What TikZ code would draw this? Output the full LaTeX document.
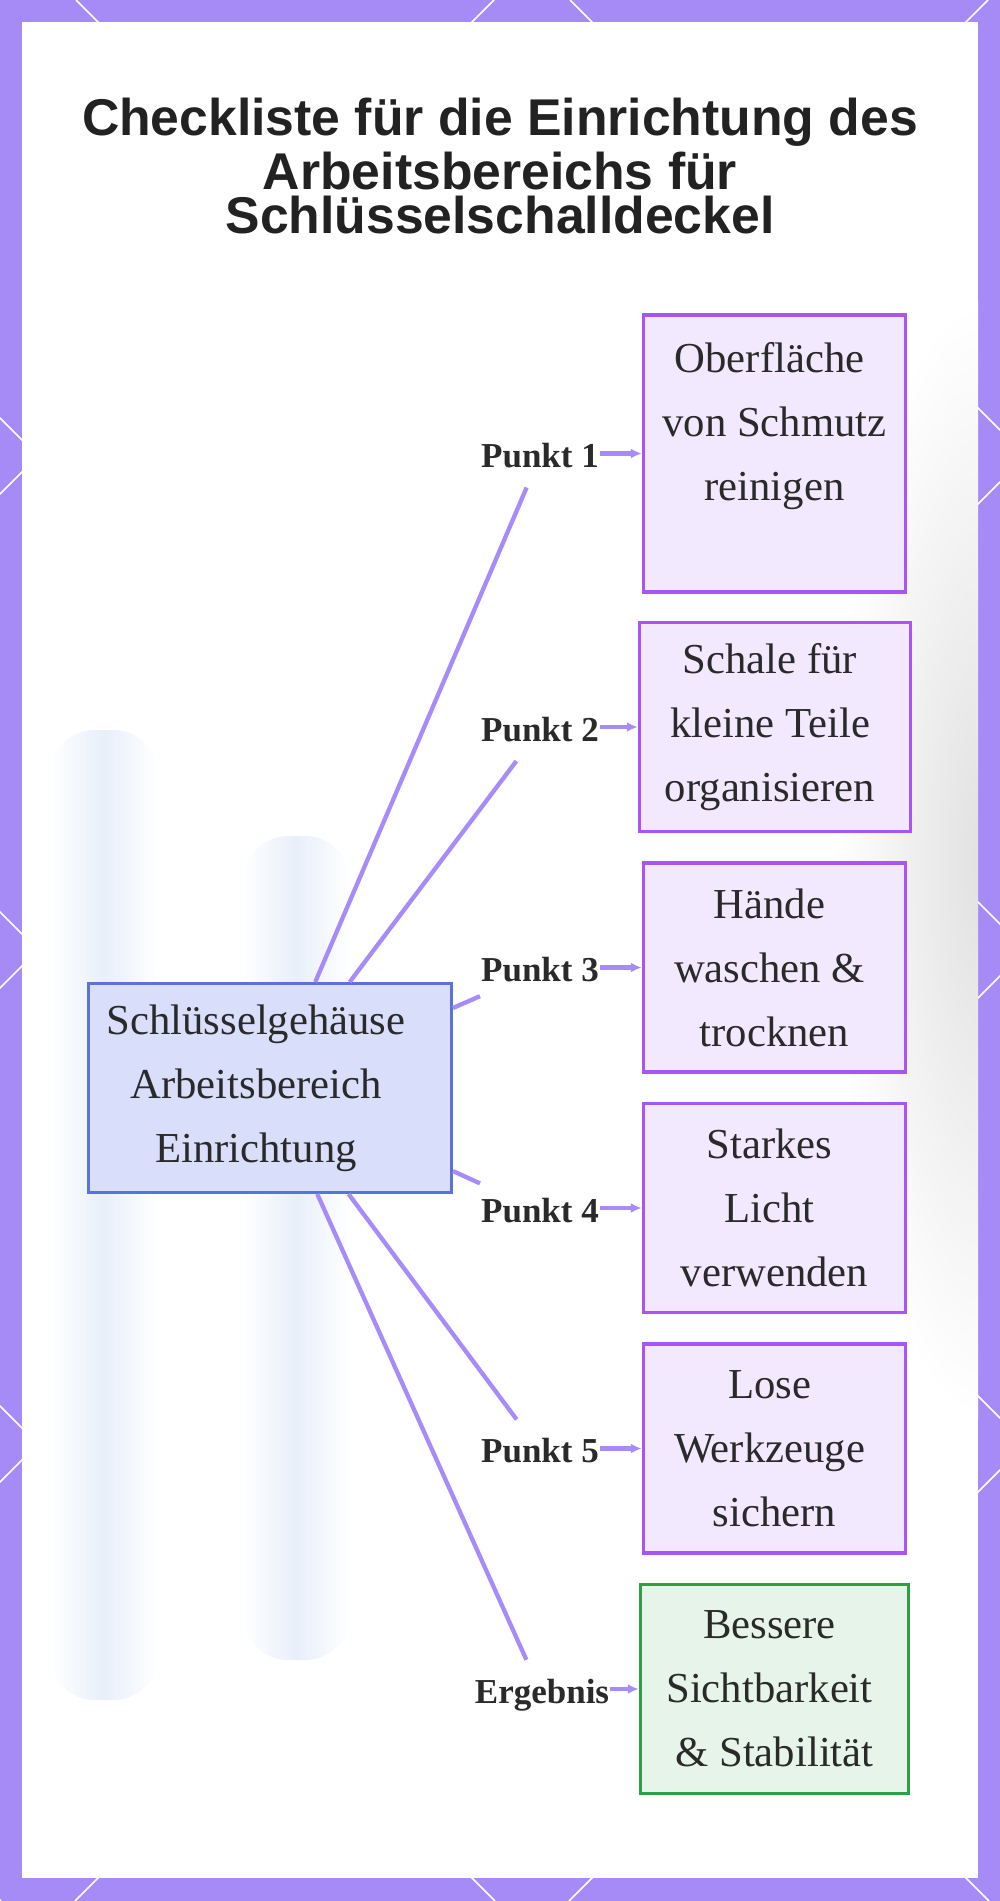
\documentclass[tikz,border=0pt]{standalone}
\usepackage{fontspec}
\setmainfont{Liberation Serif}
\newfontfamily\headfont{Liberation Sans}
\usetikzlibrary{arrows.meta}
\definecolor{framecol}{RGB}{166,139,247}
\definecolor{linkcol}{RGB}{167,139,250}
\definecolor{stepline}{RGB}{168,85,247}
\definecolor{stepfill}{RGB}{242,233,254}
\definecolor{hubline}{RGB}{91,115,217}
\definecolor{hubfill}{RGB}{217,222,250}
\definecolor{resline}{RGB}{46,160,67}
\definecolor{resfill}{RGB}{230,244,234}
\definecolor{ink}{RGB}{42,42,42}
\definecolor{haze}{RGB}{232,239,250}
\newcommand\hubpad{\kern28pt}
\newcommand\steppad{\kern10pt}

\begin{document}
\begin{tikzpicture}[x=1pt,y=-1pt,>={Latex[length=11pt,width=10pt]},
    head/.style={anchor=north,inner sep=0pt,align=center,text={rgb,255:red,34;green,34;blue,34},
      font=\headfont\bfseries\fontsize{51.7}{54}\selectfont},
    box/.style={inner sep=0pt,align=center,line width=3.5pt,text=ink,
      font=\fontsize{42.7}{64}\selectfont},
    stepbox/.style={box,draw=stepline,fill=stepfill,minimum width=262pt,minimum height=209pt},
    hubbox/.style={box,draw=hubline,fill=hubfill,line width=3pt,minimum width=363pt,minimum height=209pt},
    resbox/.style={box,draw=resline,fill=resfill,minimum width=268pt,minimum height=209pt},
    tag/.style={fill=white,inner xsep=1pt,inner ysep=19pt,text=ink,
      font=\bfseries\fontsize{35}{42}\selectfont},
    link/.style={draw=linkcol,line width=4.3pt},
    arr/.style={->,draw=linkcol,fill=linkcol,line width=4.3pt},
    lattice/.style={draw=white,line width=1.5pt}]

      \useasboundingbox (0,0) rectangle (1000,1901);

      % Frame with lattice
      \fill[framecol] (0,0) rectangle (1000,1901);
      \begin{scope}
        \clip (0,0) rectangle (1000,1901);
        \foreach \k in {1,...,5}
          \draw[lattice] ({494*\k},0) -- ({494*\k-1901},1901);
        \foreach \k in {-4,...,2}
          \draw[lattice] ({76+494*\k},0) -- ({76+494*\k+1901},1901);
      \end{scope}
      \fill[white] (22,22) rectangle (978,1878);

      % Faded background
      \begin{scope}
        \clip (22,22) rectangle (978,1878);
        \shade[left color=white,right color=white,middle color=haze,rounded corners=45pt]
          (50,730) rectangle (158,1700);
        \shade[left color=white,right color=white,middle color=haze,rounded corners=45pt]
          (243,836) rectangle (350,1660);
        \shade[inner color=black!12,outer color=white] (985,860) ellipse (150 and 560);
      \end{scope}

      % Title
      \node[head] (title) at (500,97.5)
        {Checkliste für die Einrichtung des\\Arbeitsbereichs für\\[-10pt]Schlüsselschalldeckel};

      % Hub
      \node[hubbox] (hub) at (270,1088)
        {Schlüsselgehäuse\hubpad\\Arbeitsbereich\hubpad\\Einrichtung\hubpad};

      % Steps
      \node[stepbox,minimum height=277pt] (s1) at (774.5,453.5) {Oberfläche\steppad\\von Schmutz\\reinigen\\~};
      \node[stepbox,minimum width=271pt] (s2) at (775,727) {Schale für\steppad\\kleine Teile\steppad\\organisieren\steppad};
      \node[stepbox] (s3) at (774.5,967.5) {Hände\steppad\\waschen \&\steppad\\trocknen};
      \node[stepbox] (s4) at (774.5,1208) {Starkes\steppad\\Licht\steppad\\verwenden};
      \node[stepbox] (s5) at (774.5,1448.5) {Lose\steppad\\Werkzeuge\steppad\\sichern};
      \node[resbox] (out) at (774.5,1689) {Bessere\steppad\\Sichtbarkeit\steppad\\\& Stabilität};

      % Tags
      \node[tag] (p1) at (540,456) {Punkt 1};
      \node[tag] (p2) at (540,729.5) {Punkt 2};
      \node[tag] (p3) at (540,970) {Punkt 3};
      \node[tag] (p4) at (540,1210.5) {Punkt 4};
      \node[tag] (p5) at (540,1451) {Punkt 5};
      \node[tag] (res) at (542,1695) {Ergebnis};

      % Links
      \foreach \p in {p1,p2,p3,p4,p5,res}
        \draw[link] (hub) -- (\p);
      \draw[arr] (p1.east |- s1.west) -- (s1.west);
      \draw[arr] (p2.east |- s2.west) -- (s2.west);
      \draw[arr] (p3.east |- s3.west) -- (s3.west);
      \draw[arr] (p4.east |- s4.west) -- (s4.west);
      \draw[arr] (p5.east |- s5.west) -- (s5.west);
      \draw[arr] (res.east |- out.west) -- (out.west);

\end{tikzpicture}
\end{document}
